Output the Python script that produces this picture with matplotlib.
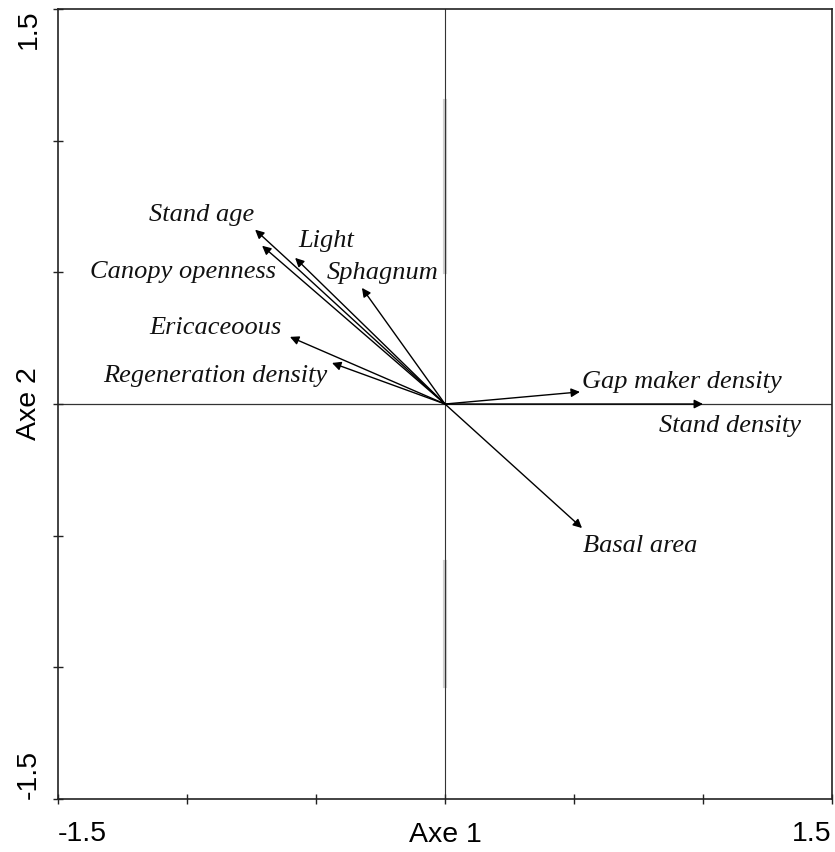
import matplotlib
matplotlib.use("Agg")
import matplotlib.pyplot as plt

# Data: biplot vectors (axis 1, axis 2)
variables = ["Stand age", "Canopy openness", "Light", "Sphagnum", "Ericaceoous",
             "Regeneration density", "Gap maker density", "Stand density", "Basal area"]
axe1 = [-0.736, -0.709, -0.581, -0.322, -0.601, -0.438, 0.523, 1.000, 0.531]
axe2 = [0.662, 0.601, 0.555, 0.441, 0.255, 0.156, 0.046, 0.000, -0.471]

# label anchor positions (data coordinates, centre of text)
label_x = [-0.945, -1.016, -0.461, -0.244, -0.888, -0.891, 0.919, 1.105, 0.756]
label_y = [0.719, 0.502, 0.620, 0.498, 0.289, 0.106, 0.084, -0.084, -0.540]

tick_vals = [-1.5, -1.0, -0.5, 0.0, 0.5, 1.0, 1.5]

fig = plt.figure(figsize=(8.35, 8.52), dpi=100)
ax = fig.add_axes([0.0695, 0.0622, 0.9269, 0.9272])
ax.set_xlim(-1.5, 1.5)
ax.set_ylim(-1.5, 1.5)

for s in ax.spines.values():
    s.set_linewidth(1.2)
    s.set_color("#222222")

ax.axhline(0, color="#333333", lw=0.9, zorder=1)
ax.axvline(0, color="#333333", lw=0.8, zorder=1)
# faint scan artefacts along the centre lines
ax.plot([0.0, 0.0], [0.5, 1.15], color="#d0d0d0", lw=3, zorder=0.5)
ax.plot([0.0, 0.0], [-1.07, -0.6], color="#d0d0d0", lw=3, zorder=0.5)

for x, y in zip(axe1, axe2):
    ax.annotate("", xy=(x, y), xytext=(0, 0),
                arrowprops=dict(arrowstyle="-|>", mutation_scale=13, lw=1.0,
                                color="black", shrinkA=0, shrinkB=0), zorder=3)

for name, lx, ly in zip(variables, label_x, label_y):
    ax.text(lx, ly, name, ha="center", va="center", fontsize=19,
            family="Liberation Serif", style="italic", color="#111111")

ax.set_xticks(tick_vals)
ax.set_yticks(tick_vals)
ax.set_xticklabels(["-1.5", "", "", "", "", "", "1.5"])
ax.set_yticklabels(["-1.5", "", "", "", "", "", "1.5"], rotation=90)
ax.tick_params(direction="inout", length=7, width=1, color="#222222",
               labelsize=20.5)
ax.tick_params(axis="x", pad=12.5)
ax.tick_params(axis="y", pad=8)
for lab in ax.get_xticklabels():
    lab.set_family("Liberation Sans")
xl = ax.get_xticklabels()
xl[0].set_ha("left")
xl[-1].set_ha("right")
yl = ax.get_yticklabels()
for lab in yl:
    lab.set_family("Liberation Sans")
yl[0].set_va("bottom")
yl[-1].set_va("top")

ax.set_xlabel("Axe 1", fontsize=20.5, family="Liberation Sans", labelpad=-18.5)
ax.set_ylabel("Axe 2", fontsize=20.5, family="Liberation Sans", labelpad=-19)

fig.savefig("out.png", dpi=100)
